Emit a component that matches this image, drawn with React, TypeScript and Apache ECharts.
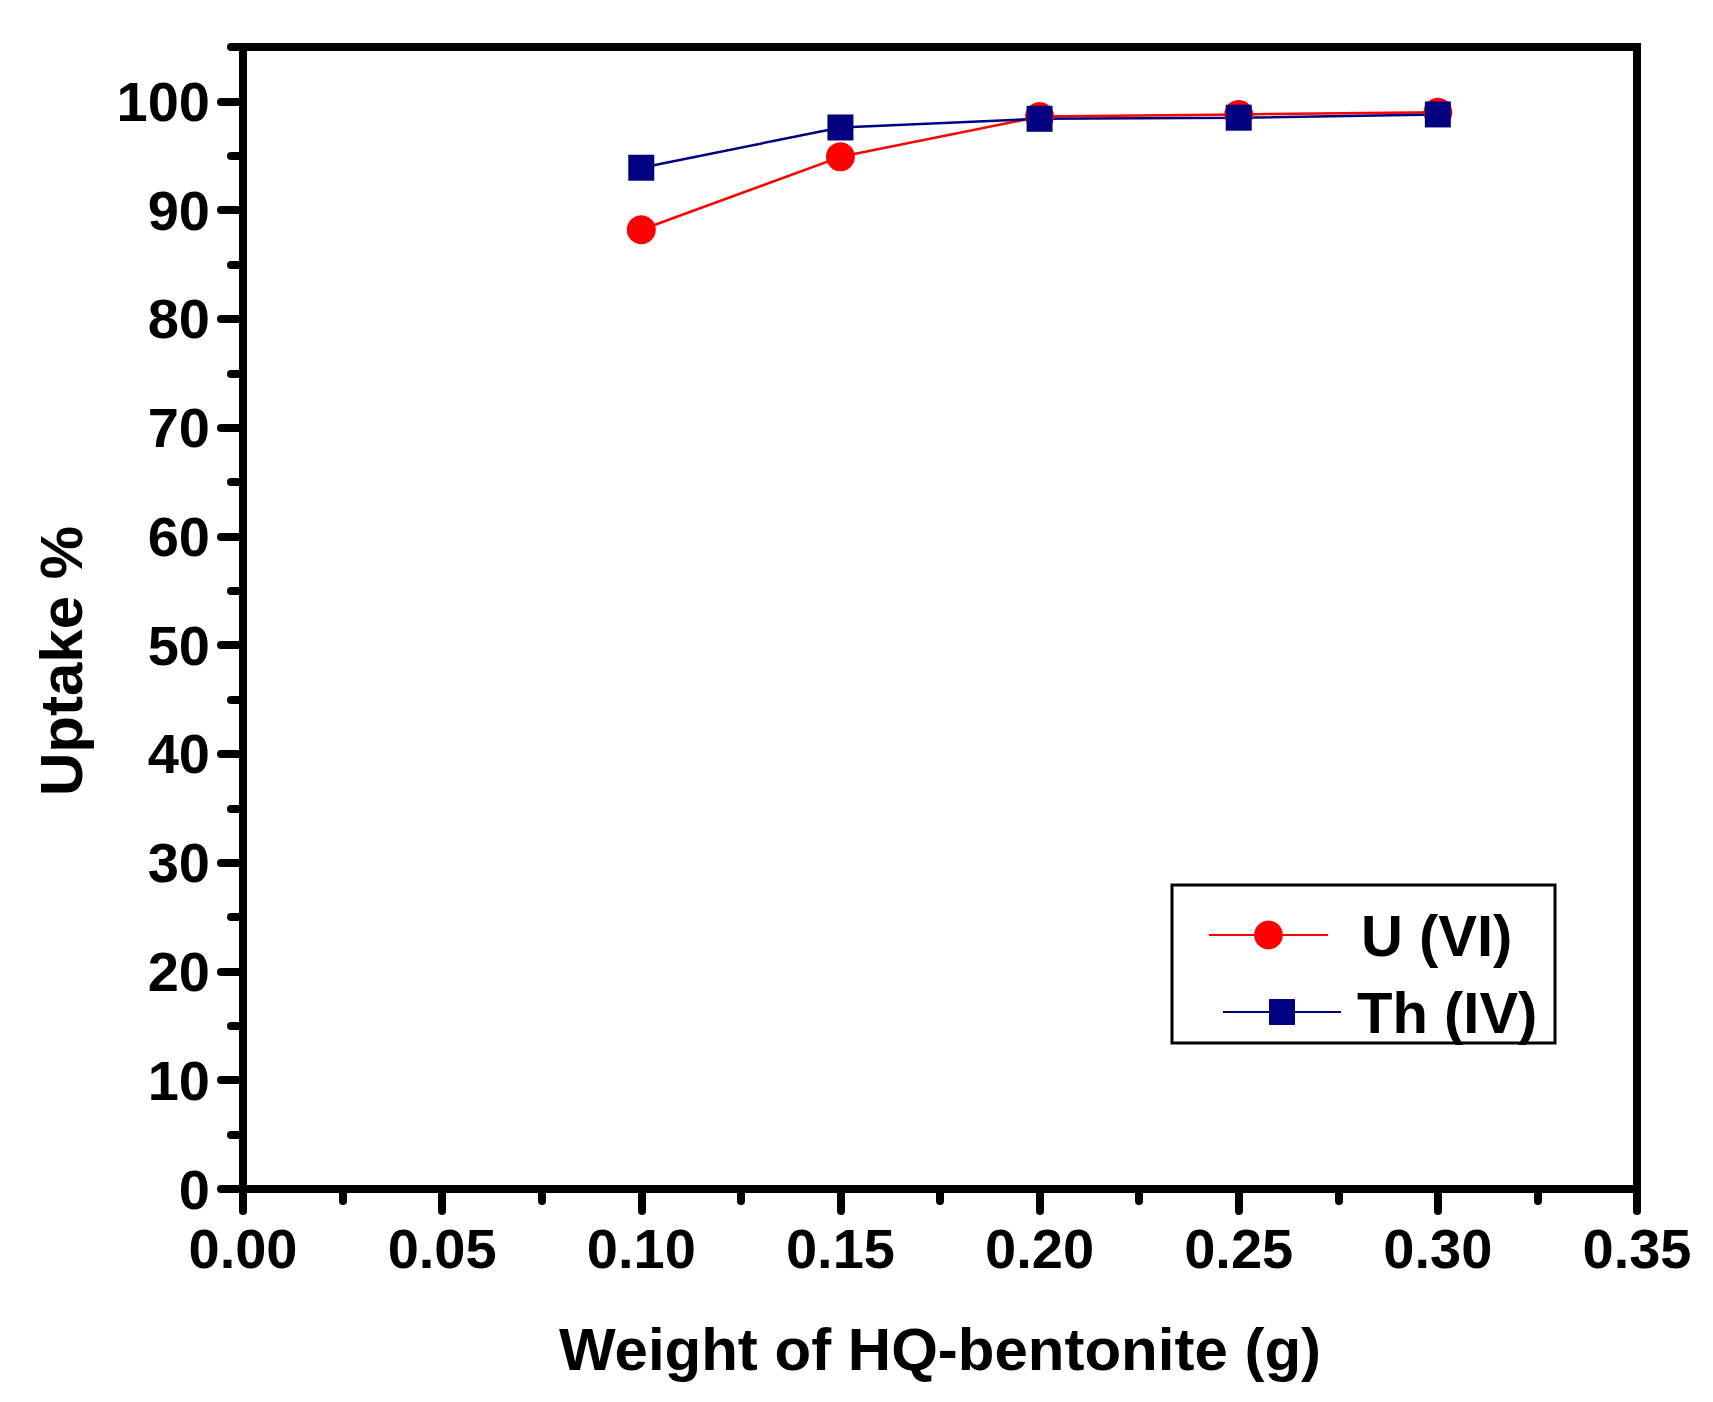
import { useEffect, useRef } from 'react';
import * as echarts from 'echarts';

// Sorbent weight (g) on the x axis
const weights = [0.1, 0.15, 0.2, 0.25, 0.3];
// Uptake % for each ion
const uraniumUptake = [88.2, 94.9, 98.6, 98.8, 99.0];
const thoriumUptake = [93.9, 97.6, 98.4, 98.5, 98.8];
// Labelled y ticks
const yLabelValues = [0, 10, 20, 30, 40, 50, 60, 70, 80, 90, 100];

const FONT = "'Liberation Sans', Arial, sans-serif";

export default function App() {
  const chartRef = useRef<HTMLDivElement>(null);

  useEffect(() => {
    if (!chartRef.current) return;
    const chart = echarts.init(chartRef.current, undefined, { renderer: 'svg' });

    const tickLine = { color: '#000', width: 8, cap: 'round' as const };
    const labelStyle = {
      color: '#000',
      fontSize: 56,
      fontWeight: 'bold' as const,
      fontFamily: FONT,
    };
    const legendText = {
      color: '#000',
      fontSize: 58,
      fontWeight: 'bold' as const,
      fontFamily: FONT,
    };

    const option: echarts.EChartsOption = {
      animation: false,
      backgroundColor: '#fff',
      grid: {
        left: 243,
        right: 76,
        top: 47,
        bottom: 213,
        show: true,
        borderColor: '#000',
        borderWidth: 8,
        backgroundColor: 'transparent',
      },
      xAxis: {
        type: 'value',
        min: 0,
        max: 0.35,
        interval: 0.05,
        name: 'Weight of HQ-bentonite (g)',
        nameLocation: 'middle',
        nameGap: 130,
        nameTextStyle: { ...labelStyle, fontSize: 60 },
        axisLine: { lineStyle: { color: '#000', width: 8 } },
        axisTick: { length: 22, lineStyle: tickLine },
        minorTick: { show: true, splitNumber: 2, length: 12, lineStyle: tickLine },
        axisLabel: { ...labelStyle, margin: 31, formatter: (v: number) => v.toFixed(2) },
        splitLine: { show: false },
        minorSplitLine: { show: false },
      },
      yAxis: [
        {
          type: 'value',
          min: 0,
          max: 105,
          interval: 10,
          position: 'left',
          name: 'Uptake %',
          nameLocation: 'middle',
          nameGap: 152,
          nameTextStyle: { ...labelStyle, fontSize: 60, padding: [0, 86, 0, 0] },
          axisLine: { show: true, lineStyle: { color: '#000', width: 8 } },
          axisTick: { length: 22, lineStyle: tickLine, customValues: yLabelValues },
          axisLabel: { ...labelStyle, margin: 33, padding: [0, 0, 10, 0], customValues: yLabelValues },
          splitLine: { show: false },
        },
        {
          type: 'value',
          min: 0,
          max: 105,
          interval: 5,
          position: 'left',
          axisLine: { show: false },
          axisTick: { length: 12, lineStyle: tickLine },
          axisLabel: { show: false },
          splitLine: { show: false },
        },
      ],
      legend: [
        {
          data: ['U (VI)'],
          left: 1208,
          top: 906,
          padding: 0,
          itemWidth: 119,
          itemHeight: 36,
          selectedMode: false,
          textStyle: { ...legendText, padding: [0, 0, 0, 28] },
        },
        {
          data: ['Th (IV)'],
          left: 1222,
          top: 983,
          padding: 0,
          itemWidth: 118,
          itemHeight: 32.5,
          selectedMode: false,
          textStyle: { ...legendText, padding: [0, 0, 0, 11] },
        },
      ],
      graphic: [
        {
          type: 'rect',
          shape: { x: 1172, y: 885, width: 383, height: 158 },
          style: { fill: 'none', stroke: '#000', lineWidth: 3 },
          z: 10,
        },
      ],
      series: [
        {
          name: 'U (VI)',
          type: 'line',
          yAxisIndex: 0,
          data: weights.map((w, i) => [w, uraniumUptake[i]]),
          symbol: 'circle',
          symbolSize: 29,
          itemStyle: { color: '#ff0000' },
          lineStyle: { color: '#ff0000', width: 2.5 },
        },
        {
          name: 'Th (IV)',
          type: 'line',
          yAxisIndex: 0,
          data: weights.map((w, i) => [w, thoriumUptake[i]]),
          symbol: 'rect',
          symbolSize: 26,
          itemStyle: { color: '#000080' },
          lineStyle: { color: '#000080', width: 2.5 },
        },
      ],
    };

    chart.setOption(option);
    return () => chart.dispose();
  }, []);

  return (
    <div
      ref={chartRef}
      style={{ position: 'absolute', left: 0, top: 0, width: 1713, height: 1402 }}
    />
  );
}
